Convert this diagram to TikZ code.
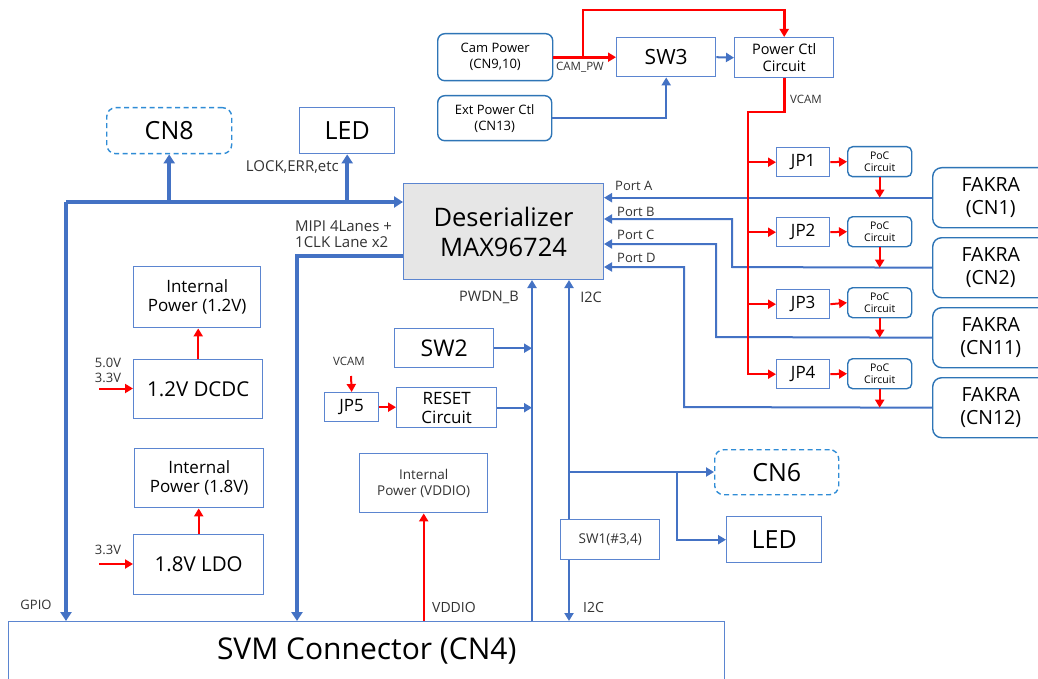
\documentclass[tikz,border=0pt]{standalone}
\usepackage{fontspec}
\setmainfont{Open Sans}
\usetikzlibrary{arrows.meta,calc}
\definecolor{lnblue}{HTML}{4472C4}
\definecolor{bxblue}{HTML}{5B85D0}
\definecolor{rdblue}{HTML}{2E75B6}
\definecolor{dsblue}{HTML}{2F8CD6}
\definecolor{pred}{HTML}{FF0000}
\definecolor{gfill}{HTML}{E6E6E6}
\definecolor{lbl}{HTML}{333333}
\newcommand\fsz[2]{\fontsize{#1}{#2}\selectfont}
\begin{document}
\begin{tikzpicture}[x=1pt,y=-1pt,
 bx/.style={draw=bxblue,line width=1.4pt,inner sep=0pt,align=center,anchor=north west,text=black},
 rbx/.style={bx,draw=rdblue,rounded corners=7pt},
 dbx/.style={bx,draw=dsblue,dash pattern=on 5pt off 3.5pt,rounded corners=9pt},
 bus/.style={draw=lnblue,line width=3.5pt},
 ln/.style={draw=lnblue,line width=2pt},
 pwr/.style={draw=pred,line width=2pt},
 pwrb/.style={draw=pred,line width=2.8pt},
 ahb/.style={-{Triangle[length=9pt,width=11pt]}},
 ah/.style={-{Triangle[length=8pt,width=9pt]}},
 lab/.style={text=lbl,inner sep=0pt},
]
\useasboundingbox (0,0) rectangle (1038,679);
\fill[white] (0,0) rectangle (1038,679);
\clip (0,0) rectangle (1038,679);

% ---------- boxes ----------
\node[rbx,minimum width=115pt,minimum height=47pt,font=\fsz{13}{16}] (camp) at (437,33) {Cam Power\\(CN9,10)};
\node[rbx,minimum width=114pt,minimum height=45pt,font=\fsz{13}{16}] (extp) at (437,95) {Ext Power Ctl\\(CN13)};
\node[bx,minimum width=99pt,minimum height=39pt,font=\fsz{21}{24}] (sw3) at (616,37) {SW3};
\node[bx,minimum width=99pt,minimum height=40pt,font=\fsz{14.5}{17}] (pctl) at (734,37) {Power Ctl\\Circuit};
\node[dbx,minimum width=125pt,minimum height=46pt,font=\fsz{25}{28}] (cn8) at (106,107) {CN8};
\node[bx,minimum width=95pt,minimum height=46pt,font=\fsz{25}{28}] (led1) at (299,107) {LED};
\node[bx,fill=gfill,line width=1pt,minimum width=200pt,minimum height=96pt,font=\fsz{25.5}{30}] (des) at (403,183) {Deserializer\\MAX96724};

\node[bx,minimum width=53pt,minimum height=29pt,font=\fsz{17}{19}] (jp1) at (776,147) {JP1};
\node[bx,minimum width=53pt,minimum height=29pt,font=\fsz{17}{19}] (jp2) at (776,217) {JP2};
\node[bx,minimum width=53pt,minimum height=29pt,font=\fsz{17}{19}] (jp3) at (776,289) {JP3};
\node[bx,minimum width=53pt,minimum height=29pt,font=\fsz{17}{19}] (jp4) at (776,359) {JP4};
\node[rbx,rounded corners=5pt,minimum width=64pt,minimum height=30pt,font=\fsz{10.5}{12.5}] (poc1) at (847,146) {PoC\\Circuit};
\node[rbx,rounded corners=5pt,minimum width=64pt,minimum height=30pt,font=\fsz{10.5}{12.5}] (poc2) at (847,216) {PoC\\Circuit};
\node[rbx,rounded corners=5pt,minimum width=64pt,minimum height=30pt,font=\fsz{10.5}{12.5}] (poc3) at (847,287) {PoC\\Circuit};
\node[rbx,rounded corners=5pt,minimum width=64pt,minimum height=30pt,font=\fsz{10.5}{12.5}] (poc4) at (847,358) {PoC\\Circuit};
\node[rbx,rounded corners=9pt,minimum width=116pt,minimum height=60pt,font=\fsz{19.5}{23}] (fk1) at (932,167) {FAKRA\\(CN1)};
\node[rbx,rounded corners=9pt,minimum width=116pt,minimum height=60pt,font=\fsz{19.5}{23}] (fk2) at (932,237) {FAKRA\\(CN2)};
\node[rbx,rounded corners=9pt,minimum width=116pt,minimum height=60pt,font=\fsz{19.5}{23}] (fk3) at (932,307) {FAKRA\\(CN11)};
\node[rbx,rounded corners=9pt,minimum width=116pt,minimum height=60pt,font=\fsz{19.5}{23}] (fk4) at (932,377) {FAKRA\\(CN12)};

\node[bx,minimum width=127pt,minimum height=61pt,font=\fsz{17}{19}] (ip12) at (133,266) {Internal\\Power (1.2V)};
\node[bx,minimum width=129pt,minimum height=59pt,font=\fsz{20.5}{23}] (dcdc) at (133,359) {1.2V DCDC};
\node[bx,minimum width=129pt,minimum height=59pt,font=\fsz{17}{19}] (ip18) at (134,448) {Internal\\Power (1.8V)};
\node[bx,minimum width=130pt,minimum height=60pt,font=\fsz{20.5}{23}] (ldo) at (133,534) {1.8V LDO};

\node[bx,minimum width=99pt,minimum height=39pt,font=\fsz{23}{26}] (sw2) at (394,328) {SW2};
\node[bx,minimum width=54pt,minimum height=29pt,font=\fsz{17}{19}] (jp5) at (324,392) {JP5};
\node[bx,minimum width=100pt,minimum height=40pt,font=\fsz{17}{19}] (rst) at (396,387) {RESET\\Circuit};
\node[bx,minimum width=128pt,minimum height=59pt,font=\fsz{13.5}{15.5},text=lbl] (ipv) at (359,453) {Internal\\Power (VDDIO)};
\node[bx,minimum width=99pt,minimum height=40pt,font=\fsz{13.5}{16},text=lbl] (sw1) at (560,519) {SW1(\#3,4)};
\node[dbx,minimum width=124pt,minimum height=45pt,font=\fsz{25}{28}] (cn6) at (714,449) {CN6};
\node[bx,minimum width=95pt,minimum height=46pt,font=\fsz{25}{28}] (led2) at (726,516) {LED};
\node[bx,minimum width=716pt,minimum height=58pt,font=\fsz{30}{34}] (svm) at (8,621) {SVM Connector (CN4)};

% ---------- coordinates ----------
\coordinate (g) at (66,202);
\coordinate (m) at (297,256);
\coordinate (pw) at (532,0);
\coordinate (ic) at (569,0);
\coordinate (br) at (569,472);
\coordinate (br2) at (677,472);
\coordinate (cp) at (583,56.5);
\coordinate (tp) at (583,10);
\coordinate (vr) at (748,112);
\coordinate (in1) at (99,388.5);
\coordinate (in2) at (99,564);
\coordinate (vc5) at (351,376);

% ---------- blue buses ----------
\draw[bus,ahb] (g) -- (g -| des.west);
\draw[bus,ahb] (g) -- (g |- svm.north);
\draw[bus,ahb] (cn8.south |- g) -- (cn8.south);
\draw[bus,ahb] (led1.south |- g) -- (led1.south);
\draw[bus,ahb] (m -| des.west) -- (m) -- (m |- svm.north);

% ports
\draw[ln,ah] (fk1.west) -- (fk1.west -| des.east);
\draw[ln,ah] (fk2.west) -- (732,267) -- (732,219) -- (des.east |- 0,219);
\draw[ln,ah] (fk3.west) -- (716,337) -- (716,244) -- (des.east |- 0,244);
\draw[ln,ah] (fk4.west) -- (684,407) -- (684,267) -- (des.east |- 0,267);

% top blue
\draw[ln,ah] (sw3.east) -- (pctl.west);
\draw[ln,ah] (extp.east) -- (extp.east -| sw3.south) -- (sw3.south);

% middle blue
\draw[ln,line width=2.6pt,ah] (pw |- svm.north) -- (pw |- des.south);
\draw[ln,line width=2.6pt,ah] (ic |- sw1.north) -- (ic |- des.south);
\draw[ln,line width=2.6pt,ah] (ic |- sw1.south) -- (ic |- svm.north);
\draw[ln,ah] (sw2.east) -- (sw2.east -| pw);
\draw[ln,ah] (rst.east) -- (rst.east -| pw);
\draw[ln,ah] (br) -- (br -| cn6.west);
\draw[ln,ah] (br2) -- (br2 |- led2.west) -- (led2.west);

% ---------- red power ----------
\draw[pwrb,ah] (camp.east) -- (sw3.west);
\draw[pwrb,ah] (cp) -- (tp) -- (tp -| pctl.north) -- (pctl.north);
\draw[pwrb] (pctl.south) -- (pctl.south |- vr) -- (vr) -- (vr |- jp1.west);
\draw[pwr,ah] (vr |- jp1.west) -- (vr |- jp4.west) -- (jp4.west);
\draw[pwr,ah] (vr |- jp1.west) -- (jp1.west);
\draw[pwr,ah] (vr |- jp2.west) -- (jp2.west);
\draw[pwr,ah] (vr |- jp3.west) -- (jp3.west);
\draw[pwr,ah] (jp1.east) -- (poc1.west);
\draw[pwr,ah] (jp2.east) -- (poc2.west);
\draw[pwr,ah] (jp3.east) -- (poc3.west);
\draw[pwr,ah] (jp4.east) -- (poc4.west);
\draw[pwr,ah] (poc1.south) -- (poc1.south |- fk1.west);
\draw[pwr,ah] (poc2.south) -- (poc2.south |- fk2.west);
\draw[pwr,ah] (poc3.south) -- (poc3.south |- fk3.west);
\draw[pwr,ah] (poc4.south) -- (poc4.south |- fk4.west);

\draw[pwr,ah] (dcdc.north) -- (dcdc.north |- ip12.south);
\draw[pwr,ah] (ldo.north) -- (ldo.north |- ip18.south);
\draw[pwr,ah] (in1) -- (in1 -| dcdc.west);
\draw[pwr,ah] (in2) -- (in2 -| ldo.west);
\draw[pwr,ah] (vc5) -- (jp5.north);
\draw[pwr,ah] (jp5.east) -- (jp5.east -| rst.west);
\draw[pwr,ah] (ipv.south |- svm.north) -- (ipv.south);

% ---------- labels ----------
\node[lab,font=\fsz{11.5}{13}] (lcampw) at (580,67) {CAM\_PW};
\node[lab,font=\fsz{11.5}{13}] (lvcam1) at (806,99) {VCAM};
\node[lab,font=\fsz{15}{17},anchor=east] (llock) at (339,167) {LOCK,ERR,etc};
\node[lab,font=\fsz{15}{16.5},align=left,anchor=west] (lmipi) at (295,234) {MIPI 4Lanes +\\1CLK Lane x2};
\node[lab,font=\fsz{13}{15},anchor=west] (lpa) at (615,186) {Port A};
\node[lab,font=\fsz{13}{15},anchor=west] (lpb) at (617,212) {Port B};
\node[lab,font=\fsz{13}{15},anchor=west] (lpc) at (617,235) {Port C};
\node[lab,font=\fsz{13}{15},anchor=west] (lpd) at (617,258) {Port D};
\node[lab,font=\fsz{14.5}{17}] (lpwdn) at (489,297) {PWDN\_B};
\node[lab,font=\fsz{14.5}{17}] (li2c1) at (591,297) {I2C};
\node[lab,font=\fsz{13}{15},align=left] (l50) at (108,370) {5.0V\\3.3V};
\node[lab,font=\fsz{13}{15}] (l33) at (108,550) {3.3V};
\node[lab,font=\fsz{13}{15}] (lgpio) at (36,605) {GPIO};
\node[lab,font=\fsz{11.5}{13}] (lvcam2) at (349,361) {VCAM};
\node[lab,font=\fsz{14}{16},anchor=west] (lvddio) at (432,607) {VDDIO};
\node[lab,font=\fsz{14}{16},anchor=west] (li2c2) at (583,607) {I2C};
\end{tikzpicture}
\end{document}
